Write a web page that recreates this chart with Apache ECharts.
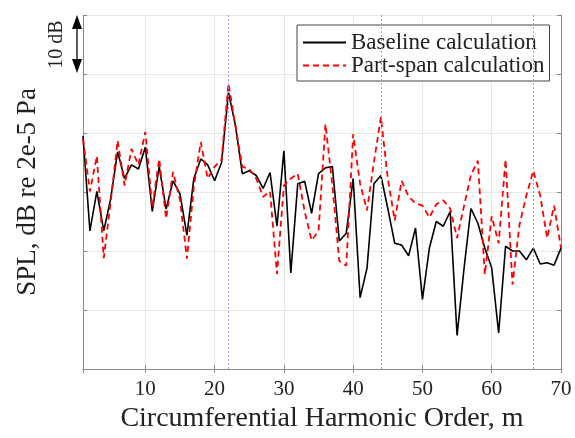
<!DOCTYPE html>
<html><head><meta charset="utf-8">
<script src="https://cdn.jsdelivr.net/npm/echarts@6/dist/echarts.min.js"></script>
<style>html,body{margin:0;padding:0;background:#fff}#c{width:575px;height:438px}</style>
</head><body><div id="c"></div>
<script>
// Circumferential harmonic order m
const harmonicOrder = [1,2,3,4,5,6,7,8,9,10,11,12,13,14,15,16,17,18,19,20,
  21,22,23,24,25,26,27,28,29,30,31,32,33,34,35,36,37,38,39,40,
  41,42,43,44,45,46,47,48,49,50,51,52,53,54,55,56,57,58,59,60,
  61,62,63,64,65,66,67,68,69,70];
// SPL (dB, arbitrary offset; grid spacing = 10 dB)
const baseline = [39.5,23.4,30.1,23.4,28.9,36.8,32.3,34.6,33.9,37.6,
  26.7,34.3,27.1,31.9,29.7,22.7,32.3,35.6,34.6,31.9,
  35.0,46.9,41.3,33.1,33.6,32.8,30.6,33.3,24.2,37.0,
  16.3,31.4,31.8,26.4,33.1,34.1,34.3,21.7,23.0,32.3,
  12.1,17.1,31.4,32.8,27.2,21.3,21.0,19.2,23.9,11.8,
  20.5,25.0,24.2,26.7,5.7,17.0,27.2,24.7,20.5,17.1,
  6.1,20.8,20.0,20.0,18.5,20.5,17.8,18.0,17.6,20.5];
const partSpan = [39.0,30.1,36.1,18.8,28.4,38.7,31.1,37.3,34.6,40.2,
  27.4,35.6,25.5,33.4,28.7,18.7,30.9,38.5,32.3,34.3,
  35.5,48.4,41.2,34.3,33.9,32.3,29.2,30.1,16.1,31.1,
  32.3,33.1,26.7,21.8,23.4,41.5,31.1,18.3,17.5,39.8,
  31.4,26.9,35.1,42.7,32.3,25.2,31.9,29.2,28.1,27.7,
  25.7,27.9,28.6,27.2,22.2,27.6,32.9,35.3,16.0,25.9,
  21.3,35.5,14.3,24.4,29.4,33.6,29.4,22.2,27.7,20.5];
// Blade-passing harmonics marked with dotted lines
const bladeHarmonics = [22,44,66];
const xTickLabels = ['10','20','30','40','50','60','70'];
const seriesNames = ['Baseline calculation','Part-span calculation'];

const serif = '"Liberation Serif", "DejaVu Serif", serif';
const chart = echarts.init(document.getElementById('c'));
const pairs = a => harmonicOrder.map((m,i)=>[m,a[i]]);
const axisCol = '#8a8a8a';
const gridCol = '#e8e8e8';

chart.setOption({
  animation:false,
  backgroundColor:'#fff',
  grid:{left:83,right:14,top:15,bottom:66,containLabel:false},
  legend:{
    left:297, top:25, orient:'vertical',
    data:seriesNames,
    itemWidth:43, itemHeight:14, itemGap:0,
    padding:[6,5,4,5],
    borderColor:'#444', borderWidth:1, backgroundColor:'#fff',
    itemStyle:{opacity:0},
    textStyle:{fontFamily:serif,fontSize:23,color:'#222'}
  },
  xAxis:[{
    type:'value', min:1, max:70, splitNumber:7,
    name:'Circumferential Harmonic Order, m', nameLocation:'middle', nameGap:36,
    nameTextStyle:{fontFamily:serif,fontSize:28,color:'#222'},
    axisLine:{show:true,lineStyle:{color:axisCol,width:1}},
    axisTick:{show:true,inside:true,length:4,lineStyle:{color:axisCol}},
    axisLabel:{fontFamily:serif,fontSize:21,color:'#222',margin:10,showMinLabel:false,
      formatter:v=>xTickLabels.indexOf(String(v))>=0?String(v):''},
    splitLine:{show:true,lineStyle:{color:gridCol,width:1}}
  },{
    type:'value', min:1, max:70, splitNumber:7, position:'top',
    axisLine:{show:true,lineStyle:{color:axisCol,width:1}},
    axisTick:{show:true,inside:true,length:4,lineStyle:{color:axisCol}},
    axisLabel:{show:false}, splitLine:{show:false}
  }],
  yAxis:[{
    type:'value', min:0, max:60, interval:10,
    name:'SPL, dB re 2e-5 Pa', nameLocation:'middle', nameGap:42,
    nameTextStyle:{fontFamily:serif,fontSize:27,color:'#222'},
    axisLine:{show:true,lineStyle:{color:axisCol,width:1}},
    axisTick:{show:true,inside:true,length:4,lineStyle:{color:axisCol}},
    axisLabel:{show:false},
    splitLine:{show:true,lineStyle:{color:gridCol,width:1}}
  },{
    type:'value', min:0, max:60, interval:10, position:'right',
    axisLine:{show:true,lineStyle:{color:axisCol,width:1}},
    axisTick:{show:true,inside:true,length:4,lineStyle:{color:axisCol}},
    axisLabel:{show:false}, splitLine:{show:false}
  }],
  series:[{
    name:'bpf', type:'line', data:[], silent:true, z:1,
    markLine:{silent:true, symbol:['none','none'], label:{show:false},
      lineStyle:{color:'#9a9aff',type:[2,2],width:1},
      data:bladeHarmonics.map(h=>({xAxis:h}))}
  },{
    name:seriesNames[0], type:'line', data:pairs(baseline), symbol:'none', z:3,
    lineStyle:{color:'#000',width:1.6}, itemStyle:{color:'#000'}
  },{
    name:seriesNames[1], type:'line', data:pairs(partSpan), symbol:'none', z:4,
    lineStyle:{color:'#ff0000',width:1.8,type:[6,4]}, itemStyle:{color:'#ff0000'}
  }]
});

// 10 dB scale annotation, positioned from y-axis values 60 and 50
const yTop = chart.convertToPixel({yAxisIndex:0}, 60);
const yBot = chart.convertToPixel({yAxisIndex:0}, 50);
const xLeft = chart.convertToPixel({xAxisIndex:0}, 1);
const ax = xLeft - 6;
const hl = 14, hw = 5;
chart.setOption({graphic:[
  {type:'line',shape:{x1:ax,y1:yTop+hl-2,x2:ax,y2:yBot-hl+2},style:{stroke:'#000',lineWidth:1.3}},
  {type:'polygon',shape:{points:[[ax,yTop],[ax-hw,yTop+hl],[ax+hw,yTop+hl]]},style:{fill:'#000'}},
  {type:'polygon',shape:{points:[[ax,yBot-1],[ax-hw,yBot-hl-1],[ax+hw,yBot-hl-1]]},style:{fill:'#000'}},
  {type:'text',x:ax-20,y:(yTop+yBot)/2,rotation:Math.PI/2,
    style:{text:'10 dB',font:'20px '+serif,fill:'#222',align:'center',verticalAlign:'middle'}}
]});
</script></body></html>
